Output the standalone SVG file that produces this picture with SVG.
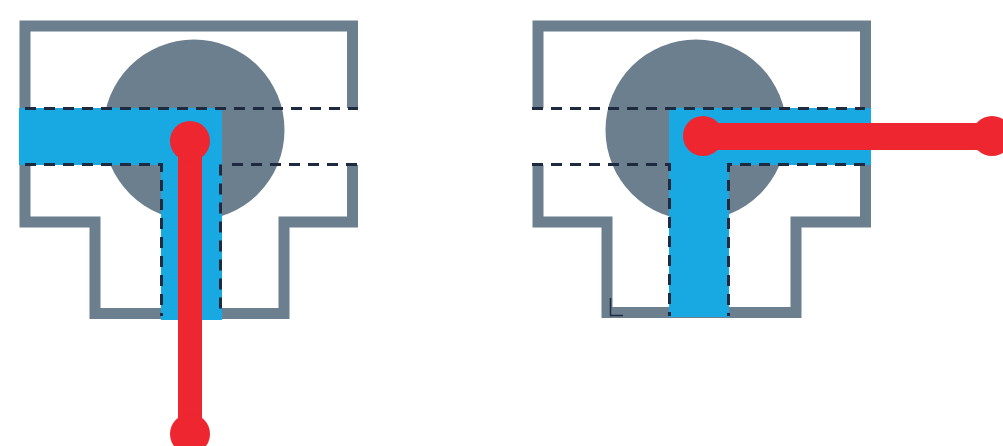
<svg xmlns="http://www.w3.org/2000/svg" width="1003" height="446" viewBox="0 0 1003 446">
<style>
.wall{fill:none;stroke:#6b7f8e;stroke-width:11}
.ball{fill:#6b7f8e}
.flow{fill:#19a9e2}
.dash{fill:none;stroke:#1d2a40;stroke-width:3;stroke-dasharray:11 8}
.lever{fill:none;stroke:#ee2630;stroke-width:24}
.knob{fill:#ee2630}
</style>
<rect width="1003" height="446" fill="#fff"/>
<g id="valve-left">
<circle class="ball" cx="194" cy="130" r="90.500"/>
<path class="wall" d="M25 108V26H352.500V108M352.500 165V222H284V313.500H95V222H25V165"/>
<path class="flow" d="M19 108H222V320H161V165H19Z"/>
<path class="dash" d="M25 108.500H358M25 164.500H161.500V316M232 164.500H358M220.500 164.500V316"/>
</g>
<g id="lever-left">
<path class="lever" d="M190 141V434"/>
<circle class="knob" cx="190" cy="141" r="20"/>
<circle class="knob" cx="190" cy="434" r="20"/>
</g>
<g id="valve-right">
<circle class="ball" cx="696" cy="130" r="90.500"/>
<path class="wall" d="M538 108V26H865.500V108M865.500 165V222H796V312.500H607V222H538V165"/>
<path class="flow" d="M669 108H871V165H729V317H669Z"/>
<path class="dash" d="M532 108.500H865M532 164.500H669.500V316M865 164.500H728.500V316"/>
<path d="M610.500 298V315.500H623" fill="none" stroke="#1d2a40" stroke-width="1.500"/>
</g>
<g id="lever-right">
<path class="lever" style="stroke-width:27" d="M703 136.500H992"/>
<circle class="knob" cx="703" cy="136" r="20"/>
<circle class="knob" cx="992" cy="136" r="20"/>
</g>
</svg>
